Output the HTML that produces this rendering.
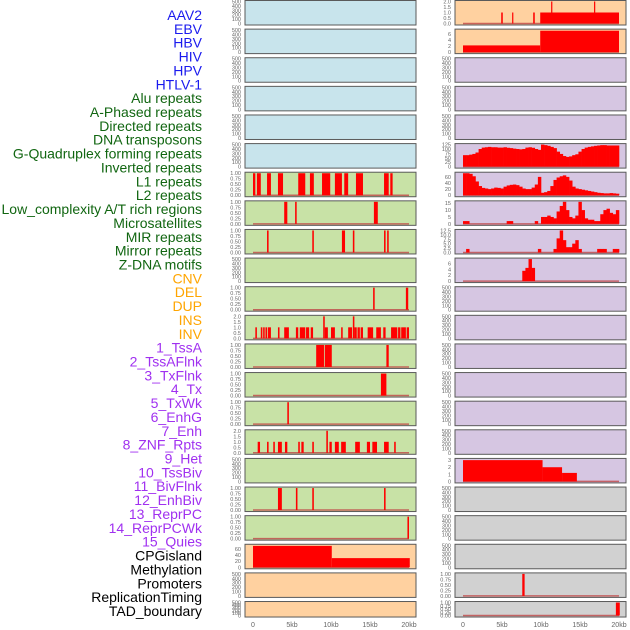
<!DOCTYPE html>
<html><head><meta charset="utf-8"><style>
html,body{margin:0;padding:0;background:#fff;width:630px;height:630px;overflow:hidden}
svg{display:block;font-family:"Liberation Sans",sans-serif}
</style></head><body>
<svg id="chart" width="630" height="630" viewBox="0 0 630 630" xmlns="http://www.w3.org/2000/svg"></svg>
<script>
// ---- data ----
const labels = ["AAV2","EBV","HBV","HIV","HPV","HTLV-1","Alu repeats","A-Phased repeats","Directed repeats","DNA transposons","G-Quadruplex forming repeats","Inverted repeats","L1 repeats","L2 repeats","Low_complexity A/T rich regions","Microsatellites","MIR repeats","Mirror repeats","Z-DNA motifs","CNV","DEL","DUP","INS","INV","1_TssA","2_TssAFlnk","3_TxFlnk","4_Tx","5_TxWk","6_EnhG","7_Enh","8_ZNF_Rpts","9_Het","10_TssBiv","11_BivFlnk","12_EnhBiv","13_ReprPC","14_ReprPCWk","15_Quies","CPGisland","Methylation","Promoters","ReplicationTiming","TAD_boundary"];
const labelColors = ["#1a1aee","#1a1aee","#1a1aee","#1a1aee","#1a1aee","#1a1aee","#116611","#116611","#116611","#116611","#116611","#116611","#116611","#116611","#116611","#116611","#116611","#116611","#116611","#ffa500","#ffa500","#ffa500","#ffa500","#ffa500","#a030f0","#a030f0","#a030f0","#a030f0","#a030f0","#a030f0","#a030f0","#a030f0","#a030f0","#a030f0","#a030f0","#a030f0","#a030f0","#a030f0","#a030f0","#000","#000","#000","#000","#000"];
const xTicks = [0,5,10,15,20];
const xTickLabels = ["0","5kb","10kb","15kb","20kb"];
const ticksEmpty = ["0","100","200","300","400","500"];
const ticksBin = ["0.00","0.25","0.50","0.75","1.00"];
const ticksTwo = ["0.0","0.5","1.0","1.5","2.0"];
// interval tracks [startKb, endKb, value]
const aluBars = [[0,0.3,1],[0.5,1.0,1],[1.8,2.3,1],[3.2,3.85,1],[5.8,6.7,1],[7.3,7.8,1],[8.85,9.9,1],[10.5,11.4,1],[11.7,12.2,1],[13.2,14.1,1],[16.8,17.4,1],[17.6,17.9,1]];
const aphasedBars = [[4.0,4.4,1],[5.4,5.6,1],[15.5,16.0,1]];
const directedBars = [[1.8,2.0,1],[7.6,7.8,1],[11.4,11.8,1],[12.8,13.0,1],[16.8,17.0,1],[17.2,17.4,1]];
const gquadBars = [[15.4,15.6,1],[19.6,19.9,1]];
const invertedBars = [[0.3,0.5,1],[1.0,1.2,1],[1.3,1.5,1],[1.6,1.8,1],[1.9,2.3,1],[3.2,3.4,1],[4.0,4.6,1],[5.5,5.8,1],[6.0,6.7,1],[6.8,7.2,1],[7.4,7.7,1],[9.0,9.2,2],[9.2,9.6,1],[10.0,10.5,1],[11.3,11.5,1],[12.2,12.7,1],[12.8,13.0,2],[13.0,13.3,1],[13.4,13.7,1],[13.8,14.1,1],[14.7,15.4,1],[15.8,16.4,1],[16.7,17.0,1],[17.7,18.5,1],[18.6,18.9,1],[19.0,19.6,1],[19.7,20.0,1]];
const l1Bars = [[8.1,9.1,1],[9.2,10.1,1],[17.1,17.4,1]];
const l2Bars = [[16.4,17.1,1]];
const lowCompBars = [[4.4,4.6,1]];
const microBars = [[0.6,0.9,1],[1.8,2.0,1],[2.6,2.8,1],[3.2,3.7,1],[4.1,4.4,1],[5.8,6.0,1],[6.2,6.5,1],[7.6,7.8,1],[9.4,9.6,2],[9.8,10.1,1],[10.5,11.0,1],[11.3,11.9,1],[13.1,13.7,1],[14.6,15.0,1],[15.3,15.9,1],[16.8,17.4,1],[18.1,18.3,1]];
const mirrorBars = [[3.2,3.7,1],[5.5,5.7,1],[7.6,7.8,1],[16.8,17.0,1]];
const zdnaBars = [[19.8,20.0,1]];
const cnvBars = [[0,10.1,70],[10.1,20.1,30]];
const insBars = [[4.9,5.1,1],[6.3,6.4,1],[9.0,9.2,1],[9.9,20.0,1],[11.3,11.4,2],[16.8,16.9,2]];
const invBars = [[0,9.9,2.2],[9.9,20.0,7]];
const quiesBars = [[0,10.2,3],[10.2,12.7,2],[12.7,14.6,1.2]];
const promBars = [[7.6,7.9,1]];
const tadBars = [[19.6,20.1,1]];
// binned tracks, 0.4kb bins from 0 to 20kb
const txValues = [65,65,68,72,80,100,108,110,112,110,110,108,108,110,107,105,102,100,98,100,108,110,107,100,95,125,122,118,112,105,85,72,60,55,58,65,70,85,100,108,112,115,118,120,122,122,120,120,120,120];
const txWkValues = [72,72,70,62,45,30,24,22,20,22,25,24,22,28,32,34,35,33,28,22,20,20,25,35,60,8,10,14,30,50,58,62,65,60,48,28,22,20,18,16,14,12,10,8,7,6,6,7,6,5];
const enhGValues = [2,2,0,0,0,0,0,0,0,0,0,0,0,0,2,2,0,0,0,0,0,0,0,2,0,5,5,6,5,4,9,13,16,10,5,4,6,16,10,4,3,3,2,2,7,10,11,8,7,10];
const enhValues = [0,2,0,0,0,0,0,0,0,0,0,0,0,0,0,0,0,0,0,0,0,0,0,0,2,0,0,0,0,2,8,12.5,7,3,3,5,7,2,0,0,0,0,0,2,2,2,0,0,2,2];
const znfValues = [0,0,0,0,0,0,0,0,0,0,0,0,0,0,0,0,0,0,0,3.5,4.5,7.5,4.5,0,0,0,0,0,0,0,0,0,0,0,0,0,0,0,0,0,0,0,0,0,0,0,0,0,0,0];

const BLUE="#c8e4ec", GREEN="#c8e2a6", ORANGE="#ffd1a0", PURPLE="#d6c6e2", GRAY="#d1d1d1";
const E = {bg:null, ticks:ticksEmpty, ymax:500};
const panels = [
 // left column
 {col:0,bg:BLUE,ticks:ticksEmpty,ymax:500},{col:0,bg:BLUE,ticks:ticksEmpty,ymax:500},{col:0,bg:BLUE,ticks:ticksEmpty,ymax:500},
 {col:0,bg:BLUE,ticks:ticksEmpty,ymax:500},{col:0,bg:BLUE,ticks:ticksEmpty,ymax:500},{col:0,bg:BLUE,ticks:ticksEmpty,ymax:500},
 {col:0,bg:GREEN,ticks:ticksBin,ymax:1,bars:aluBars},
 {col:0,bg:GREEN,ticks:ticksBin,ymax:1,bars:aphasedBars},
 {col:0,bg:GREEN,ticks:ticksBin,ymax:1,bars:directedBars},
 {col:0,bg:GREEN,ticks:ticksEmpty,ymax:500},
 {col:0,bg:GREEN,ticks:ticksBin,ymax:1,bars:gquadBars},
 {col:0,bg:GREEN,ticks:ticksTwo,ymax:2,bars:invertedBars},
 {col:0,bg:GREEN,ticks:ticksBin,ymax:1,bars:l1Bars},
 {col:0,bg:GREEN,ticks:ticksBin,ymax:1,bars:l2Bars},
 {col:0,bg:GREEN,ticks:ticksBin,ymax:1,bars:lowCompBars},
 {col:0,bg:GREEN,ticks:ticksTwo,ymax:2,bars:microBars},
 {col:0,bg:GREEN,ticks:ticksEmpty,ymax:500},
 {col:0,bg:GREEN,ticks:ticksBin,ymax:1,bars:mirrorBars},
 {col:0,bg:GREEN,ticks:ticksBin,ymax:1,bars:zdnaBars},
 {col:0,bg:ORANGE,ticks:["0","20","40","60"],tickVals:[0,20,40,60],ymax:72,bars:cnvBars},
 {col:0,bg:ORANGE,ticks:ticksEmpty,ymax:500},
 {col:0,bg:ORANGE,ticks:ticksEmpty,ymax:500},
 // right column
 {col:1,bg:ORANGE,ticks:ticksTwo,ymax:2,bars:insBars},
 {col:1,bg:ORANGE,ticks:["0","2","4","6"],tickVals:[0,2,4,6],ymax:7.2,bars:invBars},
 {col:1,bg:PURPLE,ticks:ticksEmpty,ymax:500},{col:1,bg:PURPLE,ticks:ticksEmpty,ymax:500},{col:1,bg:PURPLE,ticks:ticksEmpty,ymax:500},
 {col:1,bg:PURPLE,ticks:["0","25","50","75","100","125"],tickVals:[0,25,50,75,100,125],ymax:125,bins:txValues},
 {col:1,bg:PURPLE,ticks:["0","20","40","60"],tickVals:[0,20,40,60],ymax:72,bins:txWkValues},
 {col:1,bg:PURPLE,ticks:["0","5","10","15"],tickVals:[0,5,10,15],ymax:16,bins:enhGValues},
 {col:1,bg:PURPLE,ticks:["0.0","2.5","5.0","7.5","10.0","12.5"],tickVals:[0,2.5,5,7.5,10,12.5],ymax:12.5,bins:enhValues},
 {col:1,bg:PURPLE,ticks:["0","2","4","6"],tickVals:[0,2,4,6],ymax:7.5,bins:znfValues},
 {col:1,bg:PURPLE,ticks:ticksEmpty,ymax:500},{col:1,bg:PURPLE,ticks:ticksEmpty,ymax:500},{col:1,bg:PURPLE,ticks:ticksEmpty,ymax:500},
 {col:1,bg:PURPLE,ticks:ticksEmpty,ymax:500},{col:1,bg:PURPLE,ticks:ticksEmpty,ymax:500},{col:1,bg:PURPLE,ticks:ticksEmpty,ymax:500},
 {col:1,bg:PURPLE,ticks:["0","1","2","3"],tickVals:[0,1,2,3],ymax:3.1,bars:quiesBars},
 {col:1,bg:GRAY,ticks:ticksEmpty,ymax:500},{col:1,bg:GRAY,ticks:ticksEmpty,ymax:500},{col:1,bg:GRAY,ticks:ticksEmpty,ymax:500},
 {col:1,bg:GRAY,ticks:ticksBin,ymax:1,bars:promBars},
 {col:1,bg:GRAY,ticks:ticksBin,ymax:1,bars:tadBars}
];

// ---- drawing ----
const NS="http://www.w3.org/2000/svg";
const svg=document.getElementById('chart');
function mk(tag,attrs,parent){const e=document.createElementNS(NS,tag);for(const k in attrs)e.setAttribute(k,attrs[k]);(parent||svg).appendChild(e);return e;}
const colX=[245,455], panelW=171, pitch=28.62, panelH=24.5;
function xScale(col,kb){return colX[col]+8+kb/20*156;}

// labels
labels.forEach((t,i)=>{
  const el=mk('text',{x:202,y:15+i*13.86+5,'text-anchor':'end','font-size':'14',fill:labelColors[i]});
  el.textContent=t;
  
  
});

const rowCount=[0,0];
panels.forEach((p,idx)=>{
  const r=rowCount[p.col]++;
  const top=r*pitch+0.5;
  const h=(r===21)?15.5:panelH;
  const x0=colX[p.col];
  const g=mk('g',{});
  
  
  const bottom=top+h-1.5, ytop=top+1;
  const yS=v=>bottom-(v/p.ymax)*(bottom-ytop);
  mk('rect',{x:x0,y:top,width:panelW,height:h,fill:p.bg,stroke:'#5a5a5a','stroke-width':1},g);
  // y ticks
  const n=p.ticks.length;
  p.ticks.forEach((t,k)=>{
    const v=p.tickVals?p.tickVals[k]:(k/(n-1))*p.ymax;
    const tx=mk('text',{x:x0-4,y:yS(v)+2,'text-anchor':'end','font-size':'5.5',fill:'#666'},g);
    tx.textContent=t;
    
    
  });
  const hasData=p.bars||p.bins;
  if(hasData){
    const base=mk('line',{x1:xScale(p.col,0),x2:xScale(p.col,20),y1:bottom,y2:bottom,stroke:'#c04848','stroke-width':1.5,opacity:0.8},g);
    
    
  }
  if(p.bars){
    p.bars.forEach(b=>{
      const x1=xScale(p.col,b[0]),x2=xScale(p.col,b[1]);
      const rr=mk('rect',{x:x1,y:yS(b[2]),width:Math.max(1.2,x2-x1),height:bottom-yS(b[2]),fill:'#ff0000'},g);
      
      
    });
  }
  if(p.bins){
    p.bins.forEach((v,i)=>{
      if(v<=0)return;
      const x1=xScale(p.col,i*0.4),x2=xScale(p.col,(i+1)*0.4);
      const rr=mk('rect',{x:x1,y:yS(v),width:x2-x1+0.3,height:bottom-yS(v),fill:'#ff0000'},g);
      
      
    });
  }
});

// x axes
[0,1].forEach(c=>{
  xTicks.forEach((v,i)=>{
    const t=mk('text',{x:xScale(c,v),y:627,'text-anchor':'middle','font-size':'7',fill:'#666'});
    t.textContent=xTickLabels[i];
    
    
  });
});
</script>
</body></html>
